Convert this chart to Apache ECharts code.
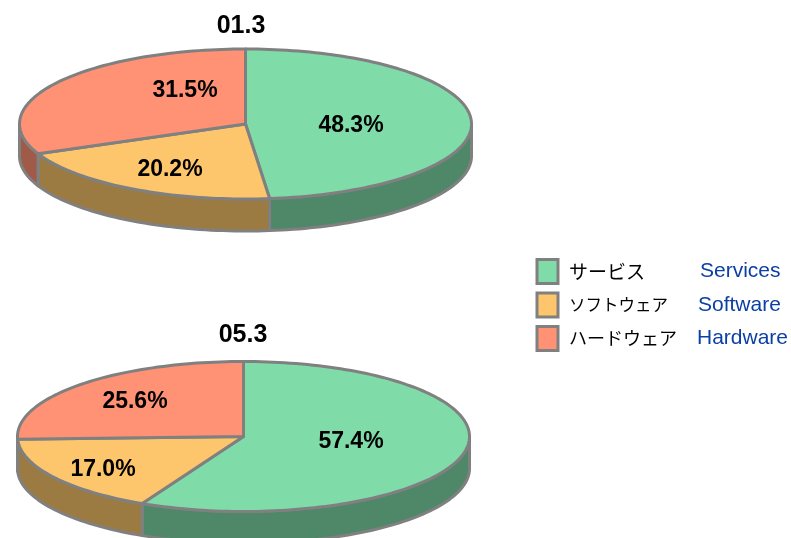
<!DOCTYPE html>
<html><head><meta charset="utf-8">
<style>html,body{margin:0;padding:0;background:#fff}#c{width:791px;height:538px}</style>
<script src="https://cdn.jsdelivr.net/npm/echarts@6/dist/echarts.min.js"></script>
</head><body><div id="c"></div>
<script>
const periods = ['01.3', '05.3'];
const namesJa = ['サービス', 'ソフトウェア', 'ハードウェア'];
const namesEn = ['Services', 'Software', 'Hardware'];
const services = [48.3, 57.4];
const software = [20.2, 17.0];
const hardware = [31.5, 25.6];
const shares = [services, software, hardware];
const topColors = ['#7FDCA9', '#FEC66C', '#FF9175'];
const wallColors = ['#4F8769', '#9C7B43', '#A05A48'];

const edge = '#808080';
const discs = [{cx: 245.5, cy: 124, rx: 226, ry: 75, depth: 32}, {cx: 243.5, cy: 436.5, rx: 226, ry: 75, depth: 32}];
const labelAt = [[[351, 126], [170, 170], [185, 91]], [[351, 442], [103, 470], [135, 402]]];
const labelFont = 'bold 23px "Liberation Sans", Arial, sans-serif';

function arc(d, a0, a1, dy) {
  const pts = [], n = Math.max(2, Math.ceil((a1 - a0) / 1.5));
  for (let i = 0; i <= n; i++) {
    const a = (a0 + (a1 - a0) * i / n) * Math.PI / 180;
    pts.push([d.cx + d.rx * Math.sin(a), d.cy - d.ry * Math.cos(a) + dy]);
  }
  return pts;
}
function renderSlice(params, api) {
  const s = params.seriesIndex, p = params.dataIndex, d = discs[p];
  let before = 0;
  for (let i = 0; i < s; i++) before += shares[i][p];
  const a0 = before * 3.6, a1 = (before + api.value(0)) * 3.6;
  const children = [];
  const w0 = Math.max(a0, 90), w1 = Math.min(a1, 270);
  if (w1 > w0) {
    children.push({type: 'polygon', shape: {points: arc(d, w0, w1, 0).concat(arc(d, w0, w1, d.depth).reverse())},
      style: {fill: wallColors[s], stroke: edge, lineWidth: 3, lineJoin: 'round'}});
  }
  children.push({type: 'polygon', shape: {points: [[d.cx, d.cy]].concat(arc(d, a0, a1, 0))},
    style: {fill: topColors[s], stroke: edge, lineWidth: 3, lineJoin: 'round'}});
  children.push({type: 'text', z2: 10, style: {x: labelAt[p][s][0], y: labelAt[p][s][1], text: api.value(0).toFixed(1) + '%',
    font: labelFont, fill: '#000', align: 'center', verticalAlign: 'middle'}});
  return {type: 'group', children};
}
const jaWidth = [131, 129, 128];
const jaSize = [19, 16.5, 18];
const rich = {};
namesJa.forEach((n, i) => {
  rich['j' + i] = {fontFamily: '"Noto Sans CJK JP"', fontSize: jaSize[i], color: '#000', width: jaWidth[i], padding: [0, 0, 0, 6], lineHeight: 24, height: 24};
  rich['e' + i] = {fontFamily: '"Liberation Sans", Arial', fontSize: 21, color: '#0B3FA5', lineHeight: 24, height: 24};
});
const chart = echarts.init(document.getElementById('c'), null, {renderer: 'canvas'});
chart.setOption({
  animation: false,
  backgroundColor: '#fff',
  title: periods.map((t, i) => ({text: t, left: [241, 243][i], top: [14, 323][i], textAlign: 'center', padding: 0,
    textStyle: {fontFamily: '"Liberation Sans", Arial', fontWeight: 'bold', fontSize: 25, color: '#000'}})),
  legend: {
    orient: 'vertical', left: 535.5, top: 258, padding: 0, itemGap: 6.5, itemWidth: 21, itemHeight: 24,
    selectedMode: false, icon: 'rect',
    data: namesJa,
    formatter: n => { const i = namesJa.indexOf(n); return `{j${i}|${n}}{e${i}|${namesEn[i]}}`; },
    textStyle: {rich, padding: [0, 0, 0, 0]},
    itemStyle: {borderColor: edge, borderWidth: 3}
  },
  series: namesJa.map((n, s) => ({
    type: 'custom', name: n, coordinateSystem: 'none', renderItem: renderSlice, silent: true,
    itemStyle: {color: topColors[s]},
    data: shares[s]
  }))
});
</script></body></html>
